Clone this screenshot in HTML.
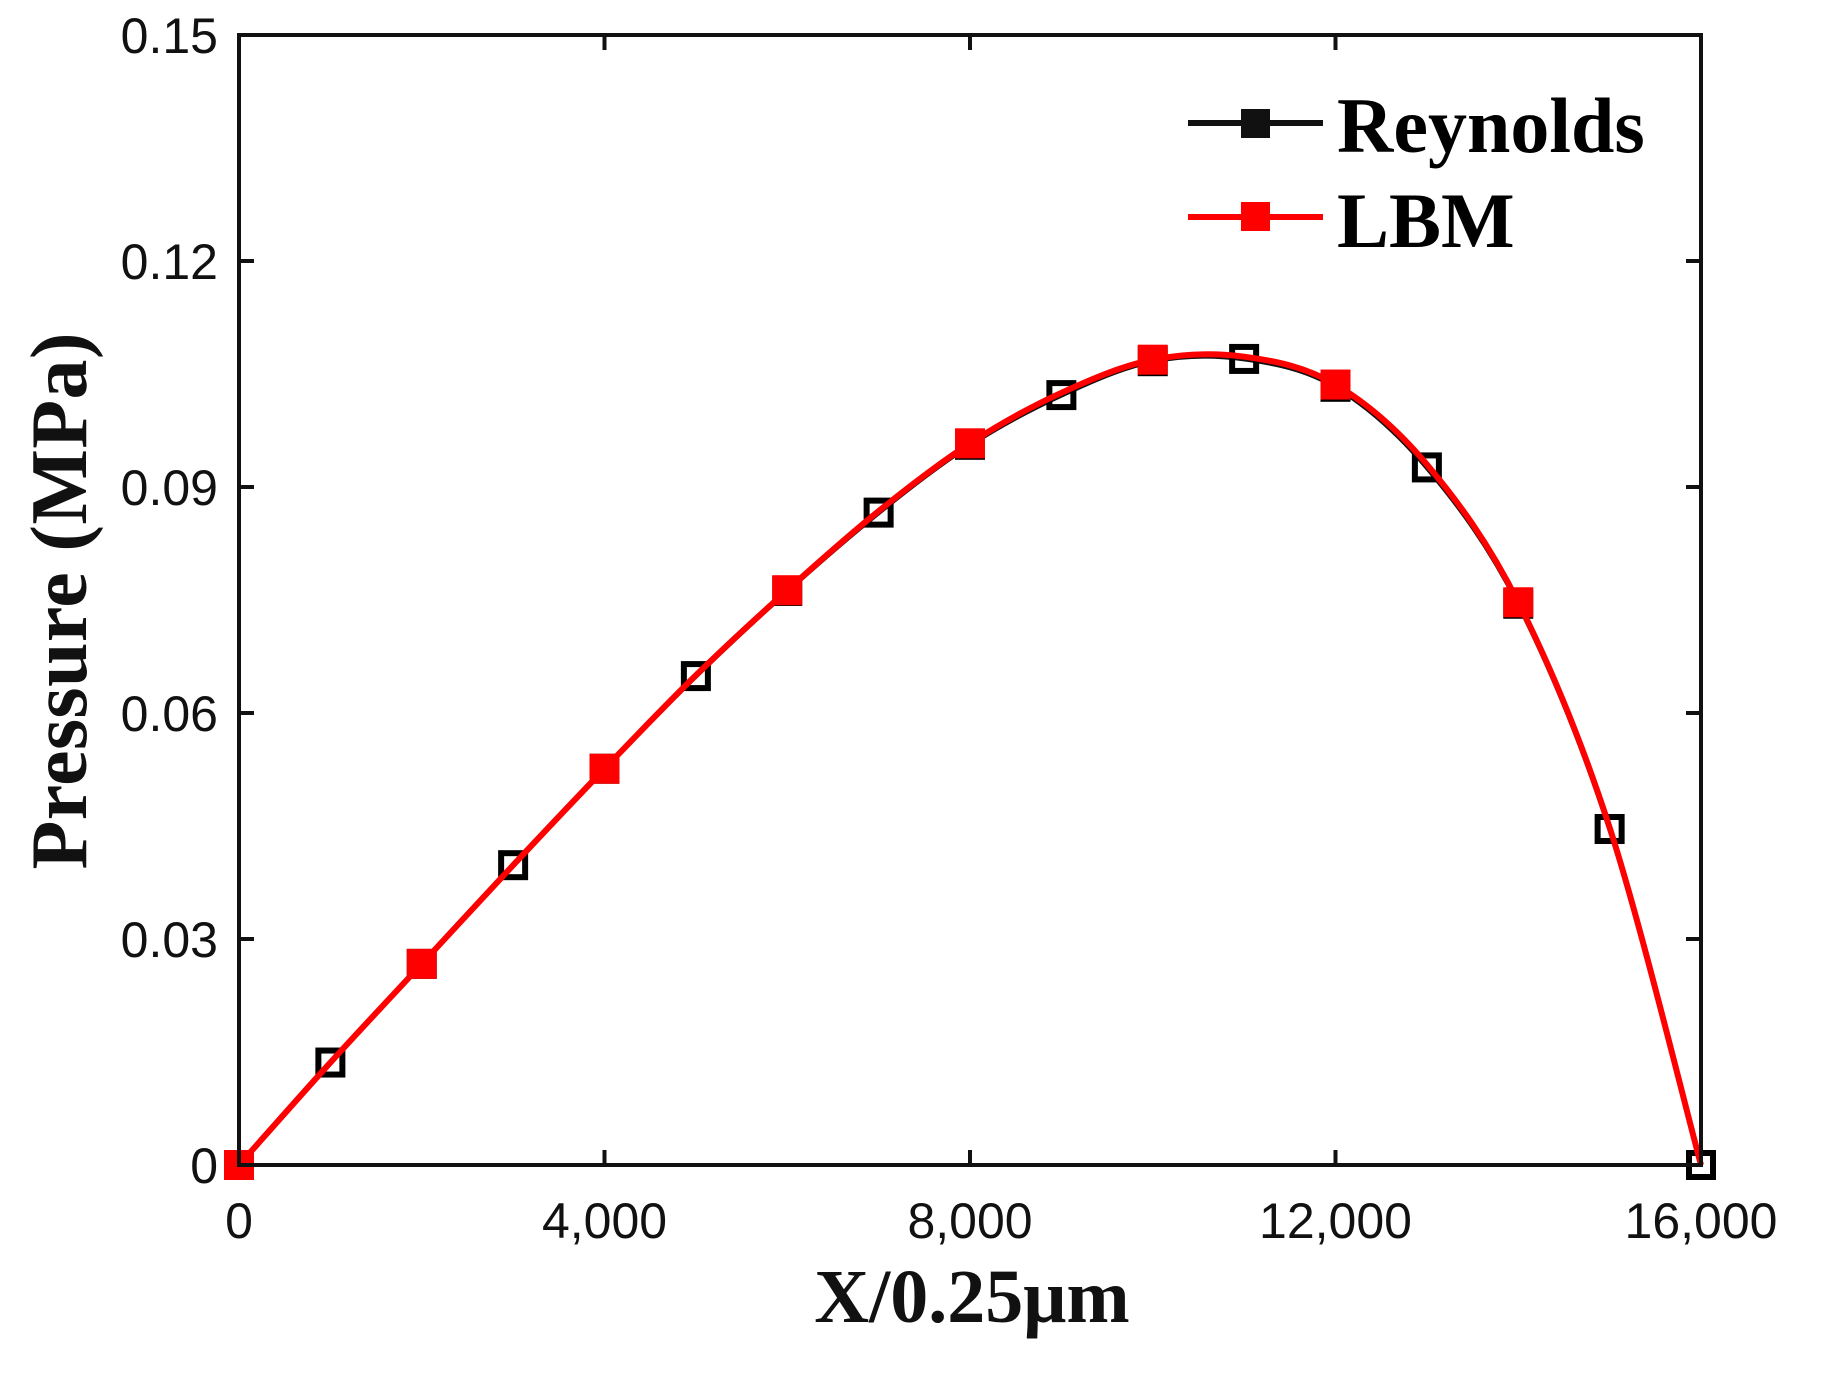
<!DOCTYPE html>
<html><head><meta charset="utf-8"><style>
html,body{margin:0;padding:0;background:#fff;}
svg{display:block;}
</style></head><body>
<svg id="chart" width="1821" height="1382" viewBox="0 0 1821 1382" xmlns="http://www.w3.org/2000/svg">
<g id="axes"></g>
<g id="series"></g>
<rect x="239" y="35" width="1462" height="1130" fill="none" stroke="#111" stroke-width="4"/>
<text transform="translate(86,601) rotate(-90)" text-anchor="middle" font-family="Liberation Serif, serif" font-weight="bold" font-size="80" textLength="537" fill="#111">Pressure (MPa)</text>
<text x="972" y="1322" text-anchor="middle" font-family="Liberation Serif, serif" font-weight="bold" font-size="76" fill="#111">X/0.25μm</text>
<g>
<line x1="1188" y1="123" x2="1323" y2="123" stroke="#111" stroke-width="6"/>
<rect x="1241" y="109" width="29" height="29" fill="#111"/>
<text x="1337" y="152" font-family="Liberation Serif, serif" font-weight="bold" font-size="78" fill="#000">Reynolds</text>
<line x1="1188" y1="217" x2="1323" y2="217" stroke="#f00" stroke-width="6"/>
<rect x="1241" y="202" width="29" height="29" fill="#f00"/>
<text x="1337" y="247" font-family="Liberation Serif, serif" font-weight="bold" font-size="78" fill="#000">LBM</text>
</g>
</svg>
<script>
const reyX = [0,1000,2000,3000,4000,5000,6000,7000,8000,9000,10000,11000,12000,13000,14000,15000,16000];
const reyY = [0,0.0136,0.0267,0.0398,0.0526,0.0649,0.0762,0.0866,0.0956,0.1022,0.1067,0.1070,0.1033,0.0926,0.0745,0.0446,0];
const lbmX = [0,1000,2000,3000,4000,5000,6000,7000,8000,9000,10000,11000,12000,13000,14000,15000,16000];
const lbmY = [0,0.0136,0.0267,0.0398,0.0526,0.0650,0.0763,0.0868,0.0958,0.1025,0.1069,0.1073,0.1036,0.0930,0.0747,0.0448,0];
const lbmMarkX = [0,2000,4000,6000,8000,10000,12000,14000];
const lbmMarkY = [0,0.0267,0.0526,0.0763,0.0958,0.1069,0.1036,0.0747];
const xTicks = [0,4000,8000,12000,16000];
const xTickLabels = ["0","4,000","8,000","12,000","16,000"];
const yTicks = [0,0.03,0.06,0.09,0.12,0.15];
const yTickLabels = ["0","0.03","0.06","0.09","0.12","0.15"];

const L=239,R=1701,T=35,B=1165;
function sx(v){return L+(v-0)/(16000-0)*(R-L);}
function sy(v){return B-(v-0)/(0.15-0)*(B-T);}
const NS="http://www.w3.org/2000/svg";
function mk(tag,attrs,parent){const e=document.createElementNS(NS,tag);for(const k in attrs)e.setAttribute(k,attrs[k]);parent.appendChild(e);return e;}
const axes=document.getElementById('axes'), series=document.getElementById('series');

xTicks.forEach((t,i)=>{
  const x=sx(t);
  let a=mk('line',{x1:x,y1:B,x2:x,y2:B-15,stroke:'#111','stroke-width':4},axes);
  
  
  let b=mk('line',{x1:x,y1:T,x2:x,y2:T+15,stroke:'#111','stroke-width':4},axes);
  
  
  let tx=mk('text',{x:x,y:1238,'text-anchor':'middle','font-family':'Liberation Sans, sans-serif','font-size':50,fill:'#111'},axes);
  tx.textContent=xTickLabels[i];
  
  
});
yTicks.forEach((t,i)=>{
  const y=sy(t);
  let a=mk('line',{x1:L,y1:y,x2:L+15,y2:y,stroke:'#111','stroke-width':4},axes);
  
  
  let b=mk('line',{x1:R,y1:y,x2:R-15,y2:y,stroke:'#111','stroke-width':4},axes);
  
  
  let tx=mk('text',{x:218,y:y+18,'text-anchor':'end','font-family':'Liberation Sans, sans-serif','font-size':50,fill:'#111'},axes);
  tx.textContent=yTickLabels[i];
  
  
});

function splinePath(xs,ys){
  const p=xs.map((x,i)=>[sx(x),sy(ys[i])]);
  let d='M'+p[0][0]+','+p[0][1];
  for(let i=0;i<p.length-1;i++){
    const p0=p[Math.max(0,i-1)],p1=p[i],p2=p[i+1],p3=p[Math.min(p.length-1,i+2)];
    const c1=[p1[0]+(p2[0]-p0[0])/6,p1[1]+(p2[1]-p0[1])/6];
    const c2=[p2[0]-(p3[0]-p1[0])/6,p2[1]-(p3[1]-p1[1])/6];
    d+=' C'+c1[0]+','+c1[1]+' '+c2[0]+','+c2[1]+' '+p2[0]+','+p2[1];
  }
  return d;
}
let rl=mk('path',{d:splinePath(reyX,reyY),fill:'none',stroke:'#111','stroke-width':5},series);


reyX.forEach((x,i)=>{
  let m=mk('rect',{x:sx(x)-12,y:sy(reyY[i])-12,width:24,height:24,fill:'none',stroke:'#000','stroke-width':6},series);
  
  
});
let ll=mk('path',{d:splinePath(lbmX,lbmY),fill:'none',stroke:'#f00','stroke-width':6},series);


lbmMarkX.forEach((x,i)=>{
  let m=mk('rect',{x:sx(x)-12,y:sy(lbmMarkY[i])-12,width:24,height:24,fill:'#f00',stroke:'#f00','stroke-width':6},series);
  
  
});
</script>
</body></html>
